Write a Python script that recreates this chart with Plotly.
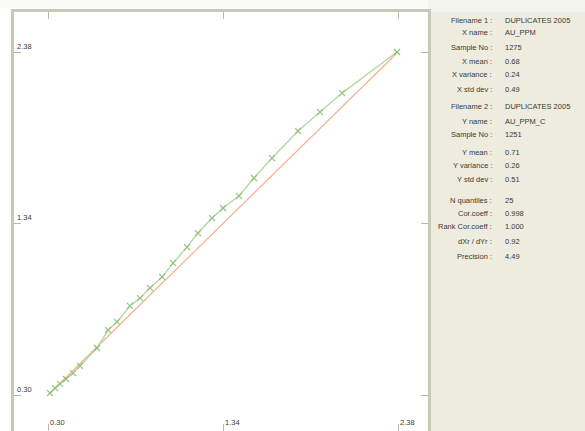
import plotly.graph_objects as go

# Quantile pairs (X quantile, Y quantile) for the 25 quantiles
x_quantiles = [0.312, 0.342, 0.371, 0.407, 0.449, 0.490, 0.591, 0.657, 0.710, 0.787,
               0.847, 0.906, 0.978, 1.043, 1.126, 1.191, 1.275, 1.340, 1.435, 1.524,
               1.631, 1.786, 1.916, 2.047, 2.374]
y_quantiles = [0.312, 0.342, 0.367, 0.397, 0.433, 0.476, 0.585, 0.694, 0.743, 0.840,
               0.888, 0.949, 1.016, 1.100, 1.197, 1.282, 1.373, 1.434, 1.507, 1.616,
               1.737, 1.901, 2.016, 2.131, 2.380]

# Reference diagonal (y = x) over the common range
diag_x = [0.30, 2.38]
diag_y = [0.30, 2.38]

tick_vals = [0.30, 1.34, 2.38]
tick_text = ["0.30", "1.34", "2.38"]

# Statistics panel
stat_labels = ["Filename 1", "X name", "Sample No", "X mean", "X variance", "X std dev",
               "Filename 2", "Y name", "Sample No", "Y mean", "Y variance", "Y std dev",
               "N quantiles", "Cor.coeff", "Rank Cor.coeff", "dXr / dYr", "Precision"]
stat_values = ["DUPLICATES 2005", "AU_PPM", "1275", "0.68", "0.24", "0.49",
               "DUPLICATES 2005", "AU_PPM_C", "1251", "0.71", "0.26", "0.51",
               "25", "0.998", "1.000", "0.92", "4.49"]
stat_rows_px = [20, 33, 47, 61, 75, 89, 107, 121, 135, 152, 165, 179,
                200, 213, 227, 241, 256]

W, H = 585, 431

fig = go.Figure()
fig.add_trace(go.Scatter(
    x=diag_x, y=diag_y, mode="lines",
    line=dict(color="#F5B08E", width=1.2), hoverinfo="skip", showlegend=False))
fig.add_trace(go.Scatter(
    x=x_quantiles, y=y_quantiles, mode="lines+markers",
    line=dict(color="#B4D9A2", width=1.4),
    marker=dict(symbol="x-thin", size=6, line=dict(color="#8FC07A", width=1.1)),
    showlegend=False))

# Right-hand statistics panel background
fig.add_shape(type="rect", xref="paper", yref="paper",
              x0=428 / W, x1=1, y0=0, y1=1,
              fillcolor="#EDECDF", line=dict(width=0), layer="below")
fig.add_shape(type="rect", xref="paper", yref="paper",
              x0=428 / W, x1=1, y0=1 - 12 / H, y1=1,
              fillcolor="#F4F4EE", line=dict(width=0), layer="below")
# Top strip above the plot frame
fig.add_shape(type="rect", xref="paper", yref="paper",
              x0=0, x1=428 / W, y0=1 - 8 / H, y1=1,
              fillcolor="#FAFAF7", line=dict(width=0), layer="below")

for lab, val, py in zip(stat_labels, stat_values, stat_rows_px):
    yy = 1 - py / H
    fig.add_annotation(xref="paper", yref="paper", x=494 / W, y=yy,
                       text=lab + " :", showarrow=False, xanchor="right", yanchor="middle",
                       font=dict(family="Liberation Sans", size=7.5, color="#3A3A36"))
    fig.add_annotation(xref="paper", yref="paper", x=503 / W, y=yy,
                       text=val, showarrow=False, xanchor="left", yanchor="middle",
                       font=dict(family="Liberation Sans", size=7.5, color="#3A3A36"))

axis_font = dict(family="Liberation Sans", size=7.5, color="#3A3A36")
fig.update_layout(
    width=W, height=H,
    margin=dict(l=0, r=0, t=0, b=0),
    paper_bgcolor="white", plot_bgcolor="white",
    xaxis=dict(domain=[14 / W, 428 / W], range=[0.098, 2.558],
               tickvals=tick_vals, ticktext=tick_text,
               ticks="inside", ticklen=7, tickcolor="#B9B7A8", mirror="ticks",
               ticklabelposition="inside right", tickfont=axis_font,
               showgrid=False, zeroline=False,
               showline=True, linecolor="#C9C7B5", linewidth=3),
    yaxis=dict(domain=[0, 1 - 12 / H], range=[0.0817, 2.6226],
               tickvals=tick_vals, ticktext=tick_text,
               ticks="inside", ticklen=7, tickcolor="#B9B7A8", mirror="ticks",
               ticklabelposition="inside top", tickfont=axis_font,
               showgrid=False, zeroline=False,
               showline=True, linecolor="#C9C7B5", linewidth=3),
)

fig.write_html("out.html")
